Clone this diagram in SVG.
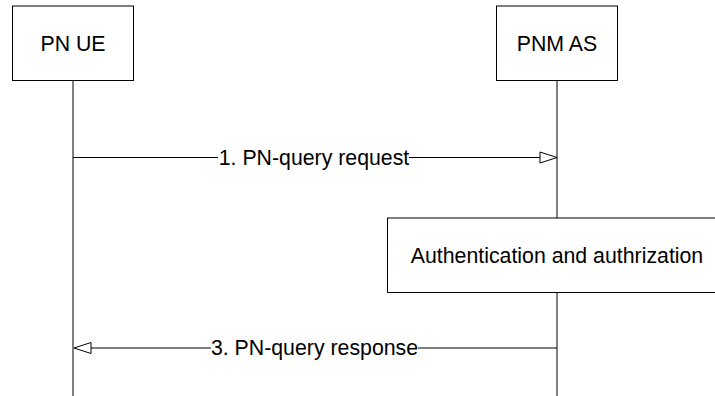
<svg xmlns="http://www.w3.org/2000/svg" width="715" height="396" viewBox="0 0 715 396">
<style>
.box{fill:#fff;stroke:#000;stroke-width:1}
.life{stroke:#000;stroke-width:1;fill:none}
.msg{stroke:#000;stroke-width:1;fill:none}
.head{fill:#fff;stroke:#000;stroke-width:1}
text{font-family:"Liberation Sans",Arial,sans-serif;font-size:21.3px;fill:#000;text-anchor:middle}
</style>
<rect width="715" height="396" fill="#fff"/>
<g id="lifelines">
<line class="life" x1="73" y1="81" x2="73" y2="396"/>
<line class="life" x1="557" y1="81" x2="557" y2="396"/>
</g>
<g id="pn-ue">
<rect class="box" x="12.5" y="6" width="121" height="74.5"/>
<text x="73" y="50.5">PN UE</text>
</g>
<g id="pnm-as">
<rect class="box" x="496.5" y="6" width="121" height="74.5"/>
<text x="557" y="50.5">PNM AS</text>
</g>
<g id="auth">
<rect class="box" x="387.5" y="218" width="340" height="74.5"/>
<text x="557" y="262.5">Authentication and authrization</text>
</g>
<g id="connectors">
<line class="msg" x1="73" y1="157.5" x2="218" y2="157.5"/>
<line class="msg" x1="409" y1="157.5" x2="540" y2="157.5"/>
<polygon class="head" points="540,152 557,157.5 540,163"/>
<text x="314" y="164.5">1. PN-query request</text>
<line class="msg" x1="91" y1="348" x2="211" y2="348"/>
<line class="msg" x1="418" y1="348" x2="557" y2="348"/>
<polygon class="head" points="91,342.5 74,348 91,353.5"/>
<text x="314.5" y="355">3. PN-query response</text>
</g>
</svg>
